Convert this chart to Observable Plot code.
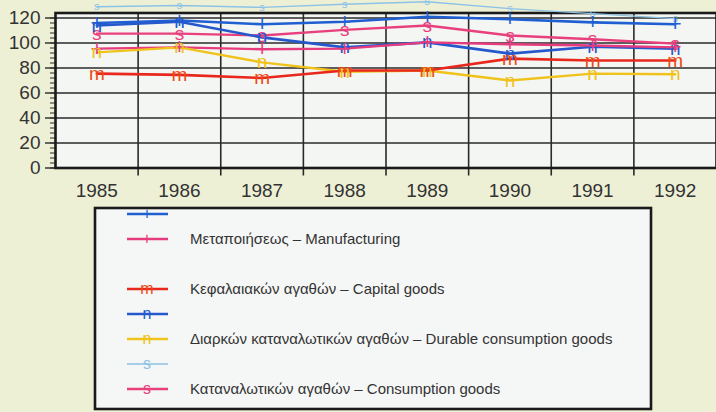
<!DOCTYPE html>
<html><head><meta charset="utf-8">
<script src="https://cdn.jsdelivr.net/npm/d3@7"></script>
<script src="https://cdn.jsdelivr.net/npm/@observablehq/plot@0.6"></script>
<style>
html,body{margin:0;padding:0;background:#eef0d6;width:716px;height:412px;overflow:hidden;font-family:"Liberation Sans",Arial,sans-serif;}
svg{display:block}
</style></head><body>
<div id="chart"></div>
<script>
// ---- data ----
const years = [1985, 1986, 1987, 1988, 1989, 1990, 1991, 1992];
const yTicks = [0, 20, 40, 60, 80, 100, 120];
const manufacturingBlue = [116, 118, 115, 117, 121, 119, 116.5, 115];
const manufacturingPink = [95.5, 96.5, 95, 95.5, 100.5, 99, 98, 96.5];
const capitalGoods = [75.5, 74.5, 72, 78, 78, 87.5, 86, 86];
const durableBlue = [114, 117, 104.5, 96.5, 100.5, 91.5, 97, 95.5];
const durableGoods = [92.5, 96.5, 84.5, 77, 78, 70, 75.5, 75];
const consumptionLightBlue = [129, 130, 128.5, 131, 133, 127.5, 123.5, 119.5];
const consumptionGoods = [107.5, 107.5, 106, 110.5, 114, 106, 103, 99.5];
const legendLabels = [
  "",
  "Μεταποιήσεως – Manufacturing",
  "Κεφαλαιακών αγαθών – Capital goods",
  "",
  "Διαρκών καταναλωτικών αγαθών – Durable consumption goods",
  "",
  "Καταναλωτικών αγαθών – Consumption goods"
];

// ---- styling ----
const series = [
  {values: consumptionLightBlue, color: "#8cc2e6", width: 1.4, marker: "s", size: 11},
  {values: manufacturingBlue, color: "#1f5fd2", width: 2.6, marker: "+", size: 22},
  {values: consumptionGoods, color: "#e8407c", width: 2.4, marker: "s", size: 19},
  {values: durableBlue, color: "#2458cc", width: 2.6, marker: "n", size: 19},
  {values: manufacturingPink, color: "#e63c7e", width: 2.4, marker: "+", size: 22},
  {values: durableGoods, color: "#f0c21c", width: 2.4, marker: "n", size: 19},
  {values: capitalGoods, color: "#e8281c", width: 2.6, marker: "m", size: 19}
];
const markerColor = c => c === "#e8281c" ? "#ec4a14" : c;

const boundaries = years.slice(1).map(y => y - 0.5);
const minorTicks = d3.range(0, 121, 4);

const marks = [
  Plot.frame({fill: "#f4f6f3", stroke: null}),
  Plot.gridY(yTicks.slice(1), {stroke: "#2a2a2a", strokeOpacity: 1, strokeWidth: 1.4}),
  Plot.gridX(boundaries, {stroke: "#2a2a2a", strokeOpacity: 1, strokeWidth: 1.6}),
  Plot.axisX(boundaries, {tickSize: 8, text: null, stroke: "#2a2a2a", strokeWidth: 1.6, label: null}),
  Plot.axisX(years, {tickSize: 0, tickPadding: 15, fontSize: 19, tickFormat: d => String(d), fill: "#333", label: null}),
  Plot.axisY(yTicks, {tickSize: 10, tickPadding: 5, fontSize: 19, fill: "#333", stroke: "#2a2a2a", strokeWidth: 1.4, label: null}),
  Plot.axisY(minorTicks, {tickSize: 5, text: null, stroke: "#2a2a2a", strokeWidth: 1, label: null}),
  Plot.frame({stroke: "#1a1a1a", strokeWidth: 2.6})
];
for (const s of series) {
  const rows = years.map((yr, i) => ({year: yr, value: s.values[i]}));
  marks.push(Plot.line(rows, {x: "year", y: "value", stroke: s.color, strokeWidth: s.width}));
}
for (const s of series) {
  const rows = years.map((yr, i) => ({year: yr, value: s.values[i]}));
  marks.push(Plot.text(rows, {x: "year", y: "value", text: () => s.marker, fill: markerColor(s.color),
    fontSize: s.size, lineAnchor: "middle", fontFamily: "Liberation Sans, Arial, sans-serif"}));
}

const chart = Plot.plot({
  width: 716,
  height: 205,
  marginLeft: 55,
  marginRight: 0,
  marginTop: 12.5,
  marginBottom: 37.5,
  style: {background: "transparent", fontFamily: "Liberation Sans, Arial, sans-serif", overflow: "visible"},
  x: {type: "linear", domain: [years[0] - 0.5, years[years.length - 1] + 0.5], axis: null, label: null},
  y: {domain: [0, 124], axis: null, label: null},
  marks
});
document.getElementById("chart").append(chart);

// ---- legend below the chart ----
const lg = d3.select("body").append("svg").attr("width", 716).attr("height", 207)
  .style("font-family", "Liberation Sans, Arial, sans-serif");
lg.append("rect").attr("x", 95).attr("y", 3).attr("width", 556).attr("height", 201)
  .attr("fill", "#f5f7f6").attr("stroke", "#1a1a1a").attr("stroke-width", 2.6);
const order = [1, 4, 6, 3, 5, 0, 2]; // series index for each legend row
const slots = [0, 1, 3, 4, 5, 6, 7];
order.forEach((si, k) => {
  const s = series[si];
  const y = 9 + slots[k] * 25;
  lg.append("line").attr("x1", 127).attr("x2", 168).attr("y1", y).attr("y2", y)
    .attr("stroke", s.color).attr("stroke-width", s.width);
  lg.append("text").attr("x", 147).attr("y", y).attr("dy", "0.32em").attr("text-anchor", "middle")
    .attr("font-size", s.marker === "+" ? 17 : 16).attr("fill", markerColor(s.color)).text(s.marker);
  const label = legendLabels[k];
  if (label) lg.append("text").attr("x", 190).attr("y", y).attr("dy", "0.35em")
    .attr("font-size", 15).attr("fill", "#333").text(label);
});
</script>
</body></html>
